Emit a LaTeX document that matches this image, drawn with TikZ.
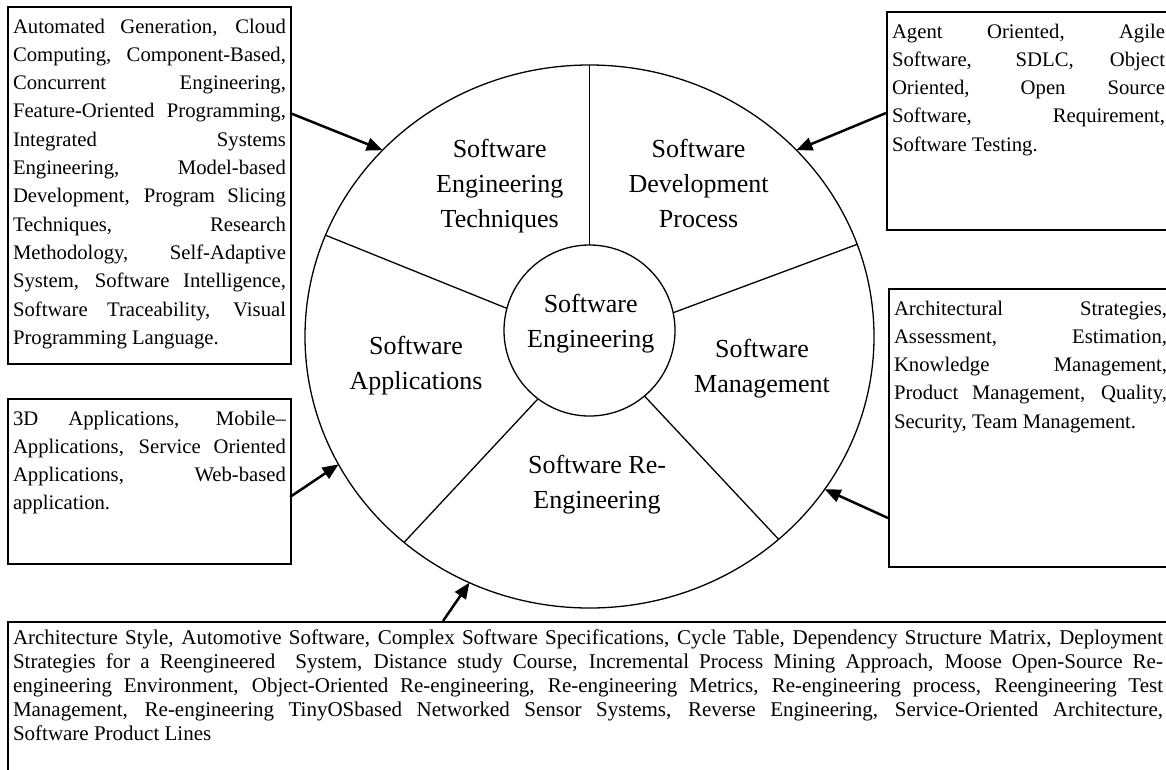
\documentclass[tikz,border=0pt]{standalone}
\usepackage{fontspec}
\setmainfont{Liberation Serif}
\usepackage{tikz}
\usetikzlibrary{arrows.meta,shapes}
\hyphenpenalty=10000
\exhyphenpenalty=10000
\tolerance=10000
\tikzstyle{ring}=[ellipse, draw, line width=1.3pt
%,fill=black!5
,minimum width=569pt
,minimum height=543pt
,inner sep=0pt, outer sep=0pt
]
\tikzstyle{core} = [ring, circle, minimum size=171pt]
\tikzstyle{sector} = [align=center, font=\fontsize{26}{35}\selectfont]
\tikzstyle{topic box} = [draw, line width=2pt, anchor=north west
,inner xsep=5pt, inner ysep=5pt
,text height=21pt
,font=\fontsize{20.7}{28.3}\selectfont
]
\tikzstyle{spoke} = [draw, line width=1.3pt, -]
\tikzstyle{feed} = [draw, line width=2.5pt, -{Triangle[length=16pt,width=13pt]}]

\begin{document}
\begin{tikzpicture}[x=1pt,y=-1pt]
    \useasboundingbox (0,0) rectangle (1166,769);
    % The wheel: outer rim and the hub
    \node[ring] (rim) at (589.5,336.5) {};
    \node[core] (hub) at (589.5,330.5) {};

    % Spokes between hub and rim
    \foreach \a/\b in {90/90, 165.4/159.6, 12.1/19.7, 233.5/228.1, 310/313.4}
        \path[spoke] (hub.\a) -- (rim.\b);

    % Sector names
    \node[sector] (corename) at (590.7,323.6) {Software\\Engineering};
    \node[sector] (techname) at (499.7,185.9) {Software\\Engineering\\Techniques};
    \node[sector] (procname) at (698.6,183.1) {Software\\Development\\Process};
    \node[sector] (appname) at (416,365.9) {Software\\Applications};
    \node[sector] (mgmtname) at (762,368.4) {Software\\Management};
    \node[sector] (reengname) at (597,484.4) {Software Re-\\Engineering};

    % Topic boxes
    \node[topic box, text depth=326pt] (techbox) at (7,6) {\parbox[t]{273pt}{Automated Generation, Cloud\linebreak
        Computing, Component-Based,\linebreak
        Concurrent Engineering,\linebreak
        Feature-Oriented Programming,\linebreak
        Integrated Systems\linebreak
        Engineering, Model-based\linebreak
        Development, Program Slicing\linebreak
        Techniques, Research\linebreak
        Methodology, Self-Adaptive\linebreak
        System, Software Intelligence,\linebreak
        Software Traceability, Visual\linebreak
        Programming Language.}};
    \node[topic box, text depth=187pt] (procbox) at (886,11) {\parbox[t]{273pt}{Agent Oriented, Agile\linebreak
        Software, SDLC, Object\linebreak
        Oriented, Open Source\linebreak
        Software, Requirement,\linebreak
        Software Testing.}};
    \node[topic box, text depth=247pt] (mgmtbox) at (888,288) {\parbox[t]{273pt}{Architectural Strategies,\linebreak
        Assessment, Estimation,\linebreak
        Knowledge Management,\linebreak
        Product Management, Quality,\linebreak
        Security, Team Management.}};
    \node[topic box, text depth=134pt] (appbox) at (7,398) {\parbox[t]{273pt}{3D Applications, Mobile–\linebreak
        Applications, Service Oriented\linebreak
        Applications, Web-based\linebreak
        application.}};
    \node[topic box, text height=17pt, text depth=150pt
        ,font=\fontsize{21}{24}\selectfont] (reengbox) at (7,621) {\parbox[t]{1150pt}{Architecture Style, Automotive Software, Complex Software Specifications, Cycle Table, Dependency Structure Matrix, Deployment\linebreak
        Strategies for a Reengineered\ \ System, Distance study Course, Incremental Process Mining Approach, Moose Open-Source Re-\linebreak
        engineering Environment, Object-Oriented Re-engineering, Re-engineering Metrics, Re-engineering process, Reengineering Test\linebreak
        Management, Re-engineering TinyOSbased Networked Sensor Systems, Reverse Engineering, Service-Oriented Architecture,\linebreak
        Software Product Lines}};

    % Arrows from the boxes to the rim
    \coordinate (techfoot) at (290,113);
    \coordinate (procfoot) at (886,113);
    \coordinate (appfoot) at (290,497);
    \coordinate (mgmtfoot) at (888,518);
    \coordinate (reengfoot) at (443,621);
    \foreach \from/\to in {techfoot/138, procfoot/42.6, appfoot/207.4, mgmtfoot/327.8, reengfoot/244.1}
        \path[feed] (\from) -- (rim.\to);
\end{tikzpicture}
\end{document}
